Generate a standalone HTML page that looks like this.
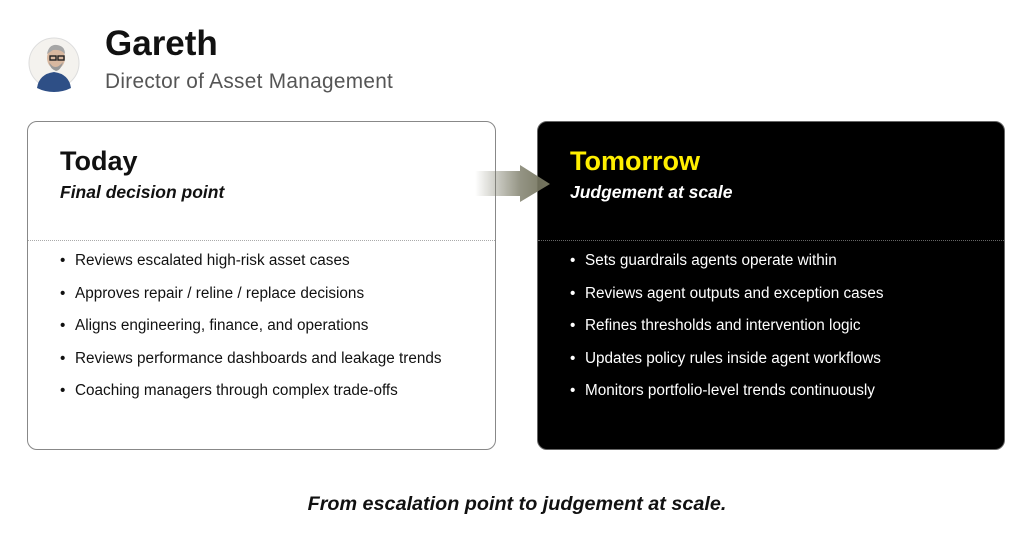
<!DOCTYPE html>
<html><head><meta charset="utf-8"><style>
body{margin:0;width:1024px;height:534px;background:#fff;font-family:"Liberation Sans",sans-serif;position:relative;overflow:hidden}
.abs{position:absolute}
.card{position:absolute;top:121px;height:329px;border-radius:10px;box-sizing:border-box}
.l{left:27px;width:469px;border:1.5px solid #888;background:#fff;color:#111}
.r{left:537px;width:468px;border:1.5px solid #666;background:#000;color:#fff}
.t{position:absolute;left:32px;top:24px;font-size:27px;font-weight:bold}
.s{position:absolute;left:32px;top:60px;font-size:17.5px;font-weight:bold;font-style:italic}
.d{position:absolute;left:0;right:0;top:118px;border-top:1.5px dotted #aaa}
.r .d{border-top-color:#666}
ul{position:absolute;left:32px;top:128px;margin:0;padding:0;list-style:none;font-size:15.3px}
li{height:32.6px;line-height:22px}
li:before{content:"•";display:inline-block;width:15px}
</style></head><body>
<svg class="abs" style="left:27px;top:30px" width="56" height="66" viewBox="0 0 56 66">
<circle cx="27" cy="33" r="25" fill="#f4f2ee" stroke="#ddd"/>
<path d="M10 58 Q12 44 27 42 Q42 44 44 58 Q36 62 27 62 Q18 62 10 58Z" fill="#2e4f86"/>
<ellipse cx="29" cy="28" rx="9" ry="11" fill="#d8b8a0"/>
<path d="M20 24 Q22 14 30 15 Q38 16 38 24 Q34 19 26 20Z" fill="#a6a6a6"/>
<path d="M22 32 Q28 42 36 32 Q34 40 29 41 Q23 39 22 32Z" fill="#999"/>
<rect x="23" y="26" width="6" height="4" fill="none" stroke="#222" stroke-width="1.4"/><rect x="31" y="26" width="6" height="4" fill="none" stroke="#222" stroke-width="1.4"/>
</svg>
<div class="abs" style="left:105px;top:24px;font-size:35px;font-weight:bold;color:#111">Gareth</div>
<div class="abs" style="left:105px;top:70px;font-size:20.8px;color:#555;letter-spacing:0.3px">Director of Asset Management</div>
<div class="card l"><div class="t">Today</div><div class="s">Final decision point</div><div class="d"></div>
<ul><li>Reviews escalated high-risk asset cases</li><li>Approves repair / reline / replace decisions</li><li>Aligns engineering, finance, and operations</li><li>Reviews performance dashboards and leakage trends</li><li>Coaching managers through complex trade-offs</li></ul></div>
<div class="card r"><div class="t" style="color:#ffef00">Tomorrow</div><div class="s">Judgement at scale</div><div class="d"></div>
<ul><li>Sets guardrails agents operate within</li><li>Reviews agent outputs and exception cases</li><li>Refines thresholds and intervention logic</li><li>Updates policy rules inside agent workflows</li><li>Monitors portfolio-level trends continuously</li></ul></div>
<svg class="abs" style="left:470px;top:160px" width="85" height="48">
<defs><linearGradient id="g" x1="0" x2="1"><stop offset="0" stop-color="#7a7a66" stop-opacity="0"/><stop offset="0.6" stop-color="#7a7a66" stop-opacity="0.8"/><stop offset="1" stop-color="#76765f"/></linearGradient></defs>
<path d="M5 11 H50 V5 L80 24 L50 42 V36 H5Z" fill="url(#g)"/></svg>
<div class="abs" style="left:0;width:1034px;top:493px;text-align:center;font-size:19.8px;font-weight:bold;font-style:italic;color:#111">From escalation point to judgement at scale.</div>
</body></html>
